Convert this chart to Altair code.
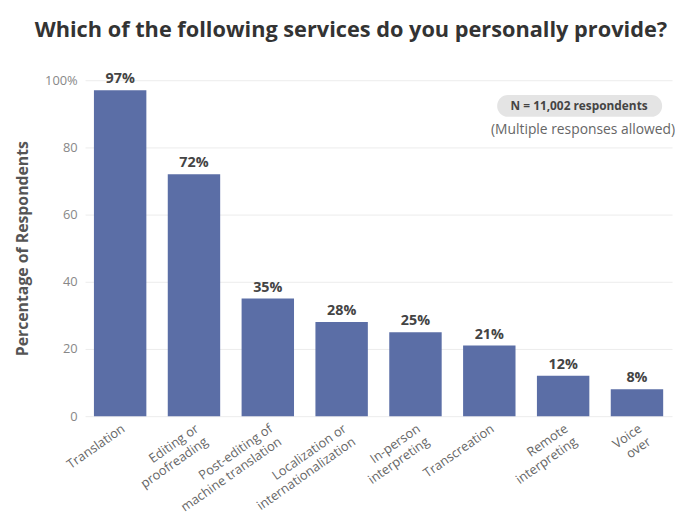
import altair as alt
import pandas as pd

services = ["Translation", "Editing or|proofreading", "Post-editing of|machine translation",
            "Localization or|internationalization", "In-person|interpreting", "Transcreation",
            "Remote|interpreting", "Voice|over"]
values = [97, 72, 35, 28, 25, 21, 12, 8]

df = pd.DataFrame({"service": services, "value": values,
                   "label": [f"{v}%" for v in values]})

FONT = "Open Sans"
W, H = 594, 340

base = alt.Chart(df).encode(
    x=alt.X("service:N", sort=services,
            scale=alt.Scale(paddingInner=0.29, paddingOuter=0.12),
            axis=alt.Axis(title=None, labelAngle=-35, labelAlign="right", labelBaseline="top",
                          labelExpr="split(datum.label, '|')", labelFontSize=13,
                          labelColor="#666", labelFont=FONT, ticks=False, domain=False,
                          labelPadding=6, labelLineHeight=16)),
    y=alt.Y("value:Q", scale=alt.Scale(domain=[0, 100]),
            axis=alt.Axis(title="Percentage of Respondents", values=[0, 20, 40, 60, 80, 100],
                          labelExpr="datum.value == 100 ? '100%' : datum.label",
                          labelFontSize=13, labelColor="#888", labelFont=FONT,
                          ticks=False, domain=False, labelPadding=8,
                          gridColor="#ececec", titleFont=FONT, titleFontSize=16,
                          titleFontWeight="bold", titleColor="#555", titlePadding=14)),
)

bars = base.mark_bar(color="#5b6ea6")
text = base.mark_text(dy=-11, fontSize=14.5, fontWeight="bold", color="#444", font=FONT).encode(
    text="label:N")

note = pd.DataFrame({"a": [1]})
pill = alt.Chart(note).mark_rect(color="#e4e4e4", cornerRadius=11).encode(
    x=alt.value(417), x2=alt.value(584), y=alt.value(15), y2=alt.value(37))
ntext = alt.Chart(note).mark_text(fontSize=12, fontWeight="bold", color="#444", font=FONT).encode(
    x=alt.value(500), y=alt.value(26), text=alt.value("N = 11,002 respondents"))
mtext = alt.Chart(note).mark_text(fontSize=14, color="#666", font=FONT, align="right").encode(
    x=alt.value(597), y=alt.value(50), text=alt.value("(Multiple responses allowed)"))

chart = alt.layer(bars, text, pill, ntext, mtext).properties(
    width=W, height=H,
    title=alt.TitleParams("Which of the following services do you personally provide?",
                          fontSize=22, fontWeight="bold", color="#333", font=FONT,
                          anchor="middle", dx=-28, offset=30),
    autosize=alt.AutoSizeParams(type="none"),
    padding={"left": 78, "top": 70, "right": 3, "bottom": 100},
).configure_view(stroke=None)

chart.save("out.html", embed_options={"renderer": "svg", "actions": False})
